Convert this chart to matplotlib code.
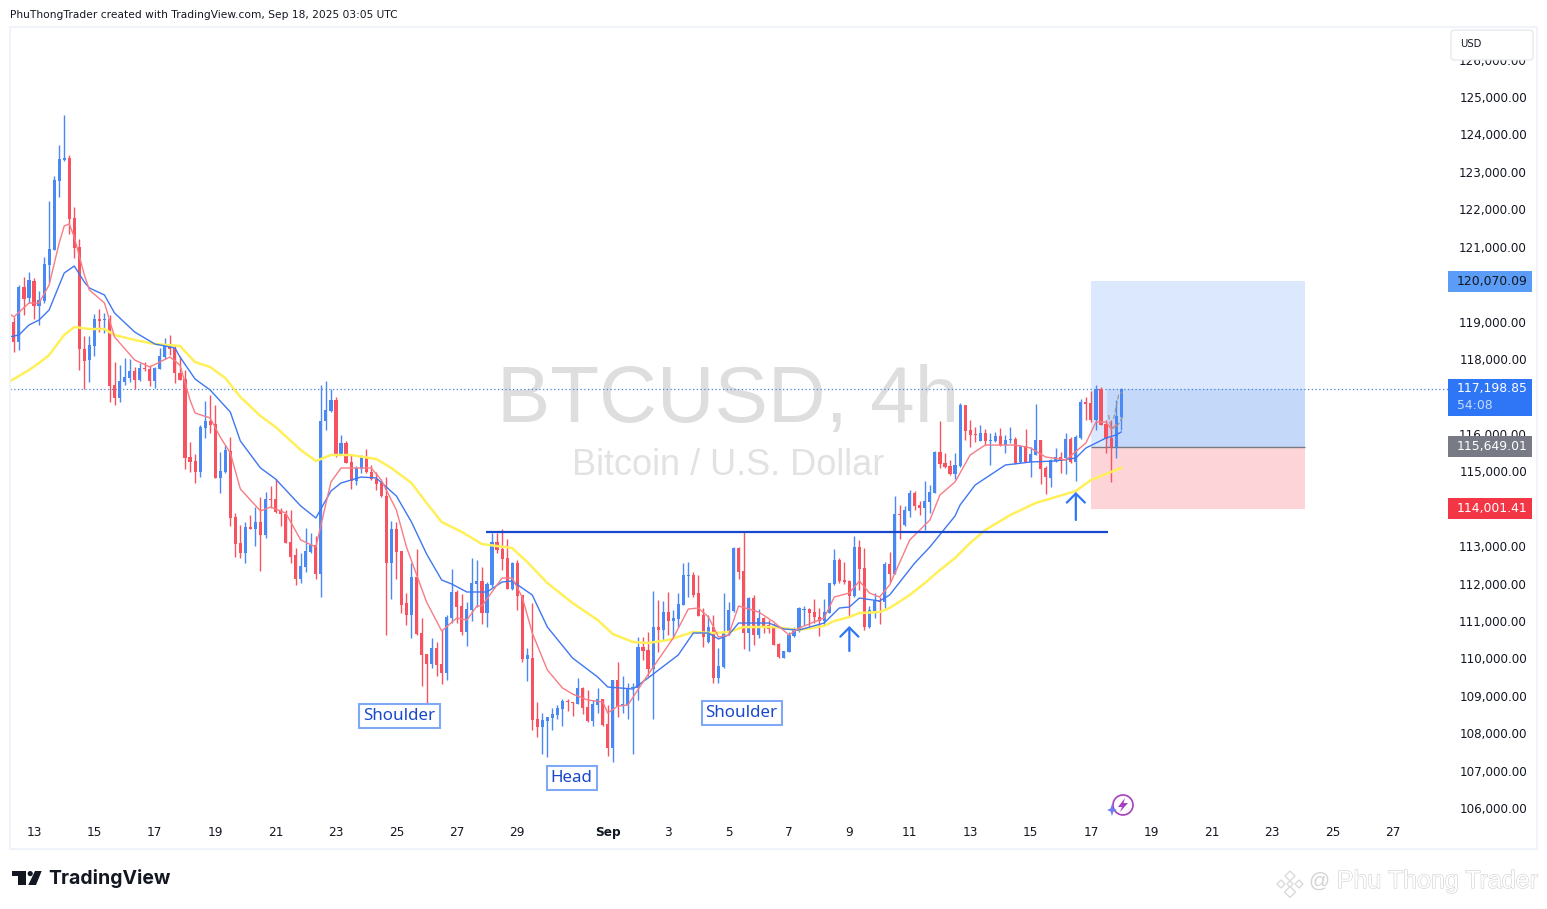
import matplotlib
matplotlib.use('Agg')
import matplotlib.pyplot as plt
import matplotlib.patheffects as pe
from matplotlib.patches import Rectangle, Polygon, Circle, FancyBboxPatch
from matplotlib.transforms import Affine2D

# 4h candles, bar 0 = Aug 13 00:00
first_bar = -5
open_p = [118800, 118997, 118463, 119932, 119620,
          120083, 119425, 119549, 120511, 120912, 122765, 123317, 123370, 121767, 120992,
          118266, 117973, 118347, 119068, 119050, 119068, 117305, 116966, 117385, 117492,
          117679, 117438, 117759, 117732, 117411, 117741, 118053, 118356, 118284, 117616,
          117465, 115380, 115273, 114979, 116155, 116342, 116262, 114828, 114979, 115541,
          113777, 113082, 112815, 113510, 113465, 113643, 113296, 114258, 114258, 113937,
          113848, 113109, 112762, 112120, 112441, 112842, 113029, 112254, 116342, 116610,
          116903, 115460, 115754, 115247, 114739, 115060, 115380, 114979, 114801, 114686,
          114338, 112557, 113456, 112868, 111479, 111158, 112174, 110678, 110116, 109849,
          110277, 109849, 109609, 111078, 111773, 111399, 110704, 111292, 111987, 112067,
          111212, 111960, 113100, 112922, 112682, 111853, 112548, 111693, 109983, 110001,
          108380, 108166, 108326, 108406, 108487, 108647, 108843, 108834, 108780, 109208,
          108700, 108326, 108754, 108914, 108246, 107614, 109422, 108745, 108754, 109208,
          109208, 110303, 110223, 109716, 110838, 110758, 111239, 110998, 111052, 111426,
          112210, 112227, 111746, 111159, 110437, 110838, 109475, 109769, 110678, 111265,
          112949, 112334, 110678, 111613, 110624, 111078, 110891, 110811, 110384, 110010,
          110170, 110597, 110731, 111292, 111310, 111230, 111096, 111007, 111212, 111987,
          112628, 112085, 112067, 111666, 112976, 112406, 110838, 111266, 111533, 111506,
          112521, 112263, 113857, 113555, 113938, 114419, 114098, 114018, 114178, 114419,
          115514, 115220, 115140, 114926, 115140, 116770, 116102, 115995, 115808, 116022,
          115817, 115799, 115942, 115710, 115826, 115853, 115238, 115674, 115247, 115434,
          115835, 115087, 114828, 115274, 115372, 115354, 115861, 115247, 115888, 116850,
          116823, 116369, 117198, 116262, 115888, 115639, 116458]
high_p = [119000, 119131, 119977, 120199, 120324,
          120155, 119816, 120734, 122221, 122889, 123718, 124519, 123450, 122070, 121197,
          118614, 118614, 119202, 119335, 119220, 119175, 117928, 117839, 118035, 118000,
          117794, 117883, 117928, 117839, 117794, 118302, 118560, 118641, 118373, 118080,
          117705, 115790, 115460, 116235, 116877, 117037, 116770, 115523, 115701, 115906,
          113875, 113563, 113652, 113831, 114035, 114320, 114454, 114605, 114792, 114009,
          113964, 113964, 112958, 112824, 113474, 113341, 113269, 117304, 117411, 117197,
          116975, 115968, 115808, 115434, 115140, 115434, 115585, 115167, 114988, 114766,
          114837, 113679, 113634, 112868, 111737, 112539, 112922, 111069, 110116, 110544,
          110446, 110758, 111158, 112388, 111826, 111719, 111515, 112681, 112628, 112441,
          112040, 113341, 113341, 113457, 113189, 112584, 112628, 111693, 110268, 111470,
          108834, 108549, 108442, 108665, 108754, 108914, 108914, 108843, 109466, 109244,
          109155, 108887, 109199, 108914, 108754, 109422, 109894, 109529, 109333, 109333,
          110579, 110579, 110695, 111809, 111559, 111533, 111773, 111292, 111737, 112539,
          112575, 112316, 112227, 111337, 111159, 111159, 110268, 111737, 111515, 112984,
          112984, 113376, 111648, 111693, 111310, 111114, 111025, 110936, 110419, 110206,
          110713, 110847, 111363, 111399, 111337, 111586, 111337, 111586, 112023, 112922,
          112691, 112584, 112094, 113270, 113163, 112940, 111399, 111738, 111649, 112584,
          112833, 114338, 114098, 114071, 114499, 114481, 114214, 114739, 114632, 115541,
          116342, 115496, 115300, 115496, 116815, 116770, 116369, 116191, 116236, 116129,
          116013, 116057, 116146, 115968, 116191, 115924, 115701, 116129, 115657, 116797,
          115835, 115140, 115318, 115612, 115523, 116013, 115924, 115968, 116930, 116975,
          117144, 117304, 117242, 116369, 116369, 116904, 117215]
low_p = [118730, 118195, 118240, 119175, 119487,
         119068, 118908, 119487, 120066, 120912, 122337, 123290, 121340, 120707, 117705,
         117198, 117394, 118080, 118730, 118685, 116850, 116780, 116850, 117305, 117394,
         117198, 117411, 117688, 117278, 117233, 117732, 118000, 118106, 117349, 117438,
         115069, 114988, 114694, 114855, 115897, 116013, 114828, 114427, 114944, 113545,
         112717, 112690, 112557, 113447, 113011, 112343, 113225, 114009, 113893, 113545,
         113082, 112557, 111960, 112005, 112316, 112824, 112120, 111648, 116102, 116592,
         115389, 115434, 115220, 114516, 114632, 114944, 114944, 114766, 114498, 114303,
         110624, 111595, 112120, 111203, 110891, 110553, 110624, 109261, 108673, 109751,
         109528, 109315, 109422, 110936, 110936, 110624, 110330, 110998, 111381, 110918,
         110838, 111916, 112806, 112361, 111853, 111827, 111292, 109912, 109395, 108086,
         107907, 107444, 107364, 108086, 108380, 108193, 108593, 108460, 108780, 108513,
         108299, 108193, 108531, 108193, 107391, 107240, 108442, 108531, 108380, 107444,
         108887, 109956, 109529, 108380, 110170, 110490, 110624, 110535, 110847, 111426,
         111648, 111648, 111132, 110312, 110401, 109333, 109333, 109733, 110624, 111248,
         112112, 110241, 110206, 110357, 110535, 110669, 110669, 110357, 110001, 110001,
         110161, 110579, 110713, 110891, 110865, 110936, 110606, 110891, 111203, 111960,
         112005, 111987, 111114, 111649, 111827, 110758, 110802, 111070, 110918, 111337,
         112049, 112254, 113180, 113537, 113786, 113964, 113831, 113430, 113875, 114410,
         115087, 115095, 114900, 114784, 115104, 115835, 115657, 115790, 115808, 115701,
         115167, 115790, 115683, 115478, 115746, 115193, 115211, 115256, 114855, 115434,
         114650, 114392, 114588, 115256, 114944, 114917, 115229, 114748, 115853, 116369,
         116325, 116102, 116236, 115478, 114721, 115363, 116102]
close_p = [118950, 118463, 119932, 119603, 120110,
           119425, 119576, 120538, 120939, 122782, 123343, 123361, 121740, 120974, 118275,
           117955, 118373, 119068, 119024, 119068, 117287, 116966, 117411, 117518, 117679,
           117438, 117759, 117741, 117411, 117759, 118080, 118373, 118275, 117634, 117438,
           115362, 115256, 114988, 116191, 116342, 116235, 114828, 115006, 115558, 113759,
           113064, 112815, 113510, 113465, 113643, 113296, 114258, 114240, 113911, 113848,
           113082, 112708, 112120, 112468, 112868, 113029, 112254, 116342, 116636, 116903,
           115460, 115754, 115220, 114739, 115077, 115380, 114979, 114801, 114659, 114338,
           112557, 113456, 112842, 111426, 111158, 112174, 110642, 110090, 109849, 110277,
           109822, 109609, 111105, 111773, 111372, 110704, 111319, 112013, 112067, 111212,
           111987, 113109, 112895, 112655, 111853, 112557, 111666, 109983, 110090, 108353,
           108166, 108353, 108433, 108513, 108673, 108860, 108825, 108816, 109208, 108673,
           108326, 108780, 108914, 108219, 107614, 109422, 108727, 108754, 109208, 109226,
           110303, 110197, 109716, 110838, 110758, 111239, 110998, 111078, 111452, 112227,
           112227, 111693, 111132, 110571, 110838, 109475, 109796, 110704, 111292, 112949,
           112316, 110678, 111613, 110624, 111078, 110811, 110784, 110357, 110036, 110197,
           110624, 110758, 111337, 111310, 111221, 111096, 111007, 111230, 112014, 112628,
           112067, 112041, 111666, 112976, 112388, 110838, 111292, 111533, 111506, 112521,
           112263, 113857, 113831, 113964, 114419, 114071, 114018, 114205, 114445, 115514,
           115193, 115113, 114926, 115167, 116770, 116075, 115968, 115968, 116022, 115799,
           115835, 115942, 115701, 115835, 115853, 115211, 115674, 115256, 115461, 115835,
           115060, 114846, 115300, 115381, 115274, 115861, 115247, 115915, 116850, 116797,
           116369, 117198, 116236, 115861, 115639, 116476, 117198]

# moving averages at some bars
red_bars = [-5, -4, -1, 1, 3, 5, 6, 7, 8, 10, 11, 14, 16, 20, 23, 27, 29, 31, 32, 35, 37, 39, 41, 45, 47, 50, 53, 56,
            59, 61, 67, 69, 72, 74, 78, 81, 84, 86, 88, 89, 93, 95, 97, 99, 102, 105, 107, 110, 113, 114, 116, 118,
            121, 124, 127, 130, 132, 134, 136, 138, 140, 144, 147, 150, 152, 157, 159, 162, 164, 166, 168, 170,
            174, 178, 180, 183, 186, 189, 195, 198, 201, 205, 209, 211, 213, 214, 215]
red_ma = [119228, 119122, 119496, 119496, 119977, 121099, 121553, 121607, 121259, 120244, 119843, 119496, 118587,
          117973, 117786, 118053, 117839, 116904, 116556, 116423, 115915, 115488, 114526, 113938, 114045, 113884,
          113163, 112976, 114713, 115087, 115087, 114766, 113965, 112976, 111506, 110732, 111079, 111025, 111400,
          111400, 112148, 112148, 111640, 110678, 109689, 109209, 109048, 108888, 108834, 108540, 108727, 108754,
          109369, 109957, 110544, 111319, 111346, 111106, 110571, 110625, 111400, 111239, 110972, 110625, 110812,
          111079, 111640, 111747, 112068, 111747, 111640, 111961, 113163, 113697, 114366, 114713, 115434, 115701,
          115701, 115621, 115381, 115301, 115755, 116316, 116316, 116129, 116236]
blue_bars = [-5, -3, -1, 1, 3, 6, 8, 10, 11, 14, 16, 20, 24, 28, 29, 32, 35, 39, 41, 45, 48, 53, 56, 59, 61, 65, 68,
             72, 75, 78, 81, 83, 86, 90, 93, 95, 99, 102, 107, 112, 114, 119, 122, 128, 131, 134, 136, 138, 140, 146,
             149, 152, 157, 160, 162, 164, 168, 170, 175, 178, 183, 184, 187, 193, 198, 203, 207, 209, 213, 215, 216]
blue_ma = [118587, 118641, 118908, 119041, 119309, 120297, 120484, 120057, 119897, 119709, 119228, 118721, 118400,
           118293, 118053, 117465, 117171, 116583, 115808, 115087, 114793, 114072, 113751, 114472, 114686, 114846,
           114820, 114339, 113644, 112789, 112094, 111987, 111774, 111774, 112041, 112068, 111693, 110838, 110010,
           109502, 109235, 109182, 109476, 110090, 110678, 110678, 110518, 110625, 110945, 110945, 110785, 110758,
           110945, 111346, 111373, 111613, 111533, 111693, 112549, 112976, 113804, 114098, 114633, 115167, 115247,
           115274, 115354, 115621, 115888, 115969, 116049]
yellow_bars = [-5, -1, 1, 3, 6, 8, 11, 14, 16, 20, 24, 29, 32, 35, 38, 41, 45, 48, 53, 56, 59, 63, 68, 71, 75, 78, 81,
               85, 89, 95, 98, 102, 107, 112, 115, 119, 122, 126, 131, 135, 138, 141, 147, 152, 157, 159, 162, 164,
               168, 170, 174, 177, 180, 183, 186, 189, 194, 199, 203, 207, 210, 213, 216]
yellow_ma = [117385, 117705, 117892, 118106, 118641, 118854, 118801, 118801, 118641, 118507, 118400, 118347, 117919,
             117786, 117492, 116984, 116476, 116182, 115568, 115274, 115434, 115434, 115327, 115087, 114686, 114152,
             113644, 113377, 113056, 112949, 112575, 112014, 111480, 111025, 110651, 110438, 110411, 110491, 110705,
             110678, 110705, 110838, 110838, 110758, 110865, 111000, 111106, 111212, 111239, 111346, 111693, 112014,
             112361, 112682, 113083, 113430, 113831, 114152, 114312, 114472, 114766, 114927, 115087]

# axis text
date_bars = [0, 12, 24, 36, 48, 60, 72, 84, 96, 114, 126, 138, 150, 162, 174, 186, 198, 210, 222, 234, 246, 258, 270]
date_labels = ['13', '15', '17', '19', '21', '23', '25', '27', '29', 'Sep', '3', '5', '7', '9', '11', '13', '15',
               '17', '19', '21', '23', '25', '27']
# 114k, 117k and 120k sit under the price tags in the original
price_ticks = [106000, 107000, 108000, 109000, 110000, 111000, 112000, 113000, 115000, 116000, 118000, 119000,
               121000, 122000, 123000, 124000, 125000, 126000]

# drawing tools
last_price = 117198.85
target_price = 120070.09
entry_price = 115649.01
stop_price = 114001.41
neckline_price = 113377
label_texts = ['Shoulder', 'Head', 'Shoulder']
label_bars = [72.6, 106.8, 140.6]
label_prices = [108460, 106804, 108540]

BLUE = '#4a89f3'
RED = '#f7525f'
TEXT = '#131722'

W, H = 1547, 909
fig = plt.figure(figsize=(W / 100, H / 100), dpi=100)
px = Affine2D().scale(1 / W, -1 / H).translate(0, 1) + fig.transFigure

ax = fig.add_axes([10 / W, (H - 849) / H, 1527 / W, 822 / H])
ax.set_xlim(-4.77, 298.63)
ax.set_ylim(104907, 126870)
for s in ax.spines.values():
    s.set_visible(False)

ax.text(137.9, 116860, 'BTCUSD, 4h', family='Liberation Sans', fontsize=57.6, color='#dedede', ha='center',
        va='center', zorder=0)
ax.text(137.9, 115160, 'Bitcoin / U.S. Dollar', family='Liberation Sans', fontsize=26, color='#e2e2e2', ha='center',
        va='center', zorder=0)

# position tool
ax.add_patch(Rectangle((210.1, entry_price), 42.4, target_price - entry_price, color='#dbe8fd', lw=0, zorder=1))
ax.add_patch(Rectangle((213.2, entry_price), 39.3, last_price - entry_price, color='#c4d9f9', lw=0, zorder=1.1))
ax.add_patch(Rectangle((210.1, stop_price), 42.4, entry_price - stop_price, color='#fdd5d9', lw=0, zorder=1))
ax.hlines(entry_price, 210.1, 252.5, color='#787b86', lw=1, zorder=1.2)

ax.hlines(last_price, -4.77, 281, color='#4a7fe0', lw=0.9, linestyles=(0, (1, 2)), zorder=1.3)

# candles
bars = list(range(first_bar, first_bar + len(close_p)))
colors = [BLUE if c >= o else RED for o, c in zip(open_p, close_p)]
ax.vlines(bars, low_p, high_p, colors=colors, lw=1, zorder=2)
body_bottom = [min(o, c) for o, c in zip(open_p, close_p)]
body_height = [max(abs(c - o), 30) for o, c in zip(open_p, close_p)]
ax.bar(bars, body_height, bottom=body_bottom, width=0.62, color=colors, lw=0, zorder=2.1)

ax.plot(yellow_bars, yellow_ma, color='#fff059', lw=1.8, zorder=2.5)
ax.plot(blue_bars, blue_ma, color='#3f77f0', lw=1, zorder=2.6)
ax.plot(red_bars, red_ma, color='#f77c85', lw=1, zorder=2.7)

ax.hlines(neckline_price, 89.9, 213.3, color='#1848cc', lw=1.6, zorder=3)

# small dashed projection near the last candles
ax.plot([213.5, 214, 215, 216.3], [116503, 116156, 116156, 116450], color='#9a9a9a', lw=0.9, ls='--', zorder=3)
ax.plot([214.5, 215.5, 216.3], [116400, 117037, 117117], color='#9a9a9a', lw=0.9, ls='--', zorder=3)

for bar, low, tip in [(162, 110197, 110865), (207, 113697, 114446)]:
    ax.annotate('', xy=(bar, tip), xytext=(bar, low),
                arrowprops=dict(arrowstyle='->,head_length=0.65,head_width=0.65', color='#2f76f6', lw=1.6,
                                shrinkA=0, shrinkB=0), zorder=3)

for t, b, p in zip(label_texts, label_bars, label_prices):
    ax.text(b, p, t, family='Noto Sans', fontsize=12.2, color='#1848cc', ha='center', va='center', zorder=4,
            bbox=dict(boxstyle='square,pad=0.24', fc='white', ec='#7fa8f7', lw=1.5))

# axes labels sit inside the pane
ax.set_xticks(date_bars, date_labels)
ax.tick_params(axis='x', length=0, pad=-16.5, labelsize=8.7, labelcolor=TEXT)
for lab in ax.get_xticklabels():
    if lab.get_text() == 'Sep':
        lab.set_fontweight('bold')
ax.yaxis.tick_right()
ax.set_yticks(price_ticks, ['{:,.2f}'.format(v) for v in price_ticks])
ax.tick_params(axis='y', length=0, pad=-7.2, labelsize=8.6, labelcolor=TEXT)
for lab in ax.get_yticklabels():
    lab.set_ha('right')

# price tags
tr = ax.get_yaxis_transform()
x0, x1 = (1448 - 10) / 1527, (1532 - 10) / 1527
xt = (1457 - 10) / 1527


def price_tag(top, bottom, color):
    ax.add_patch(Rectangle((x0, bottom), x1 - x0, top - bottom, transform=tr, color=color, lw=0, zorder=6))


price_tag(target_price + 270, target_price - 270, '#5b9cf6')
price_tag(117465, 116476, '#2f76f6')
price_tag(entry_price + 280, entry_price - 280, '#787b86')
price_tag(stop_price + 280, stop_price - 280, '#f23645')
ax.text(xt, target_price, '120,070.09', transform=tr, va='center', fontsize=8.9, color=TEXT, zorder=7)
ax.text(xt, last_price, '117,198.85', transform=tr, va='center', fontsize=8.9, color='white', zorder=7)
ax.text(xt, 116770, '54:08', transform=tr, va='center', fontsize=8.9, color='#c9dcfb', zorder=7)
ax.text(xt, entry_price, '115,649.01', transform=tr, va='center', fontsize=8.9, color='white', zorder=7)
ax.text(xt, stop_price, '114,001.41', transform=tr, va='center', fontsize=8.9, color='white', zorder=7)

# frame, header and logos in pixel coordinates
fig.add_artist(Rectangle((10, 27), 1527, 822, transform=px, fill=False, ec='#f0f3fa', lw=1.5))
fig.add_artist(FancyBboxPatch((1453, 32), 78, 26, boxstyle='round,pad=2,rounding_size=3', transform=px, fc='white',
                              ec='#e0e3eb', lw=0.8, zorder=5))
fig.text(1460 / W, 1 - 44 / H, 'USD', fontsize=7.2, color=TEXT, va='center', zorder=6)
fig.text(10 / W, 1 - 15 / H, 'PhuThongTrader created with TradingView.com, Sep 18, 2025 03:05 UTC', fontsize=7.66,
         color=TEXT, va='center')

fig.add_artist(Polygon([(12, 871), (26, 871), (26, 885), (18.3, 885), (18.3, 876), (12, 876)], transform=px,
                       color=TEXT, lw=0))
fig.add_artist(Circle((30.2, 873.6), 2.6, transform=px, color=TEXT, lw=0))
fig.add_artist(Polygon([(35, 871), (41.7, 871), (36, 885), (28.3, 885)], transform=px, color=TEXT, lw=0))
fig.text(48 / W, 1 - 879 / H, 'TradingView', family='Inter', fontweight='bold', fontsize=14, color=TEXT, va='center')

# lightning badge
fig.add_artist(Circle((1123, 805), 10, transform=px, fill=False, ec='#a63fc0', lw=1.2, zorder=5))
fig.add_artist(Polygon([(1125, 798), (1118, 807), (1122, 807), (1120, 812), (1128, 803), (1123.5, 803)], transform=px,
                       color='#a63fc0', lw=0, zorder=5))
fig.add_artist(Polygon([(1112, 804), (1113.5, 808.5), (1117, 810), (1113.5, 811.5), (1112, 816), (1110.5, 811.5),
                        (1107, 810), (1110.5, 808.5)], transform=px, color='#6b7ff0', lw=0, zorder=6))

# author watermark
wm = fig.text(1538 / W, 1 - 881 / H, 'Phu Thong Trader', family='Liberation Sans', fontsize=18, color='white',
              ha='right', va='center', zorder=5)
wm.set_path_effects([pe.withStroke(linewidth=0.8, foreground='#cfcfcf')])
fig.text(1319 / W, 1 - 881 / H, '@', family='Liberation Sans', fontsize=15, color='#d4d4d4', ha='center',
         va='center', zorder=5)
for cx, cy, r in [(1290, 876, 5), (1281, 884, 4), (1299, 884, 4), (1290, 892, 5.5), (1290, 884, 3)]:
    fig.add_artist(Polygon([(cx, cy - r), (cx + r, cy), (cx, cy + r), (cx - r, cy)], transform=px, fc='white',
                           ec='#dadada', lw=1))

fig.savefig('out.png', dpi=100)
